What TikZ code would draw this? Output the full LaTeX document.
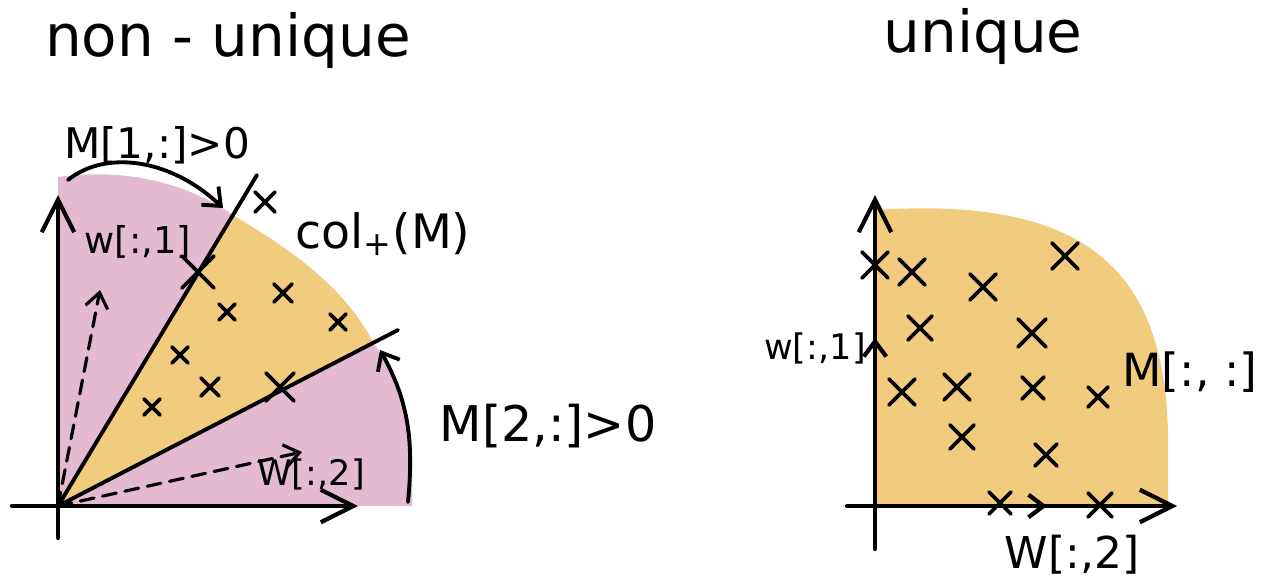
\documentclass[tikz,border=0pt]{standalone}
\usepackage{fontspec}
\setmainfont{DejaVu Sans}
\usetikzlibrary{arrows.meta}
\definecolor{rowpink}{HTML}{E3BAD0}
\definecolor{colgold}{HTML}{F1CC7F}

\begin{document}
\begin{tikzpicture}[x=0.02cm,y=-0.02cm,line cap=round,line join=round,
  axis/.style={line width=2.4pt,-{Straight Barb[length=6.5mm,width=6.5mm]}},
  ray/.style={line width=2.2pt},
  vec/.style={line width=1.8pt,dash pattern=on 8pt off 5pt,-{Straight Barb[length=3mm,width=4.5mm]}},
  onaxis/.style={line width=2.4pt,-{Straight Barb[length=3mm,width=4.5mm]}},
  curvedarrow/.style={line width=2.2pt,-{Straight Barb[length=3mm,width=5mm]}},
  xmark/.style={line width=2.2pt},
  title/.style={font=\fontsize{33}{40}\selectfont,anchor=base},
  lbl/.style={inner sep=0pt}]
\useasboundingbox (0,0) rectangle (1265,578);

% left: two rays split the quadrant
\coordinate (O) at (58,506);
\coordinate (Ox) at (12,506);
\coordinate (Xtip) at (358,506);
\coordinate (Oy) at (58,538);
\coordinate (Ytip) at (58,195);
\coordinate (ray1) at (257,175);
\coordinate (ray2) at (398,330);
\coordinate (meet1) at (233,215);
\coordinate (meet2) at (373,342);
\fill[rowpink] (O) -- (58,177) .. controls (125,168) and (185,182) .. (meet1) -- cycle;
\fill[colgold] (O) -- (meet1) .. controls (288,248) and (343,285) .. (meet2) -- cycle;
\fill[rowpink] (O) -- (meet2) .. controls (395,375) and (412,415) .. (412,450) -- (412,506) -- cycle;

\draw[axis] (Ox) -- (Xtip);
\draw[axis] (Oy) -- (Ytip);
\draw[ray] (O) -- (ray1);
\draw[ray] (O) -- (ray2);

\coordinate (w1) at (100,290);
\coordinate (w2) at (302,452);
\draw[vec] (O) -- (w1);
\draw[vec] (O) -- (w2);

\coordinate (a1s) at (68,180);
\coordinate (a1e) at (223,208);
\draw[curvedarrow] (a1s) .. controls (105,150) and (170,158) .. (a1e);
\coordinate (a2s) at (408,502);
\coordinate (a2e) at (380,350);
\draw[curvedarrow] (a2s) .. controls (414,440) and (408,400) .. (a2e);

\foreach \x/\y/\s in {198/272/16, 280/387/14, 227/312/8, 283/293/9, 338/322/8,
  180/355/8, 210/387/9, 152/407/8, 265/202/10}
  {\draw[xmark] (\x-\s,\y-\s) -- (\x+\s,\y+\s) (\x-\s,\y+\s) -- (\x+\s,\y-\s);}

\node[title] (ttlA) at (228,56) {non - unique};
\node[lbl,font=\fontsize{24}{28}\selectfont] (row1) at (157,145) {M[1,:]>0};
\node[lbl,font=\fontsize{21}{25}\selectfont] (lw1) at (138,242) {w[:,1]};
\node[lbl,font=\fontsize{27}{32}\selectfont] (colp) at (383,234) {col\textsubscript{+}(M)};
\node[lbl,font=\fontsize{20}{24}\selectfont] (lw2) at (311,474) {W[:,2]};
\node[lbl,font=\fontsize{28}{32}\selectfont] (row2) at (548,426) {M[2,:]>0};

% right: the whole quadrant
\coordinate (P) at (875,506);
\coordinate (Px) at (847,506);
\coordinate (Pxtip) at (1177,506);
\coordinate (Py) at (875,549);
\coordinate (Pytip) at (875,195);
\fill[colgold] (P) -- (875,210) .. controls (1100,195) and (1172,280) .. (1168,460)
  -- (1168,506) -- cycle;
\draw[axis] (Px) -- (Pxtip);
\draw[axis] (Py) -- (Pytip);

\coordinate (v1) at (875,338);
\coordinate (v2) at (1047,506);
\draw[onaxis] (P) -- (v1);
\draw[onaxis] (P) -- (v2);

\foreach \x/\y/\s in {875/265/13, 912/272/13, 983/287/13, 1065/256/13, 920/328/12,
  1032/333/14, 902/392/13, 957/387/13, 1033/388/11, 1098/397/10, 962/437/12,
  1046/455/11, 1000/503/11, 1100/505/12}
  {\draw[xmark] (\x-\s,\y-\s) -- (\x+\s,\y+\s) (\x-\s,\y+\s) -- (\x+\s,\y-\s);}

\node[title] (ttlB) at (983,52) {unique};
\node[lbl,font=\fontsize{20}{24}\selectfont] (rw1) at (815,348) {w[:,1]};
\node[lbl,font=\fontsize{26}{30}\selectfont] (rM) at (1190,372) {M[:, :]};
\node[lbl,font=\fontsize{25}{30}\selectfont] (rw2) at (1072,555) {W[:,2]};
\end{tikzpicture}
\end{document}
